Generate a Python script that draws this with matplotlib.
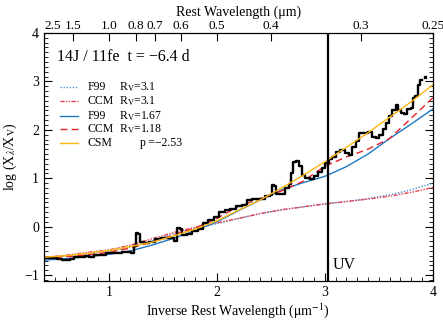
import numpy as np
import matplotlib
matplotlib.use("Agg")
import matplotlib.pyplot as plt
from matplotlib.ticker import MultipleLocator

plt.rcParams['font.family'] = ['Liberation Serif', 'DejaVu Serif']
plt.rcParams['mathtext.fontset'] = 'stix'

# observed colour excess ratio (black, binned spectrum)
obs_x = [0.40, 0.45, 0.50, 0.55, 0.58, 0.62, 0.66, 0.70, 0.76, 0.80, 0.84, 0.88,
         0.95, 1.00, 1.05, 1.10, 1.15, 1.20, 1.22, 1.24, 1.26, 1.28, 1.30, 1.35,
         1.40, 1.45, 1.52, 1.58, 1.62, 1.65, 1.67, 1.69, 1.75, 1.80, 1.85, 1.90,
         1.94, 2.00, 2.05, 2.10, 2.15, 2.20, 2.26, 2.30, 2.36, 2.42, 2.47, 2.51,
         2.52, 2.54, 2.56, 2.62, 2.65, 2.68, 2.70, 2.72, 2.75, 2.78, 2.80, 2.84,
         2.88, 2.92, 2.96, 2.99, 3.02, 3.05, 3.09, 3.12, 3.17, 3.20, 3.24, 3.27,
         3.30, 3.33, 3.38, 3.42, 3.45, 3.49, 3.52, 3.55, 3.58, 3.61, 3.64, 3.67,
         3.69, 3.72, 3.75, 3.78, 3.81, 3.82, 3.85, 3.87, 3.90]
obs_y = [-0.65, -0.65, -0.64, -0.66, -0.69, -0.68, -0.67, -0.63, -0.63, -0.61, -0.62, -0.59,
         -0.58, -0.55, -0.55, -0.54, -0.52, -0.52, -0.55, -0.40, -0.14, -0.15, -0.32, -0.33,
         -0.31, -0.25, -0.23, -0.24, -0.30, -0.03, -0.05, -0.17, -0.15, -0.09, -0.04, 0.07,
         0.14, 0.20, 0.30, 0.34, 0.36, 0.43, 0.45, 0.55, 0.57, 0.58, 0.64, 0.65,
         0.86, 0.84, 0.68, 0.68, 0.80, 0.88, 1.10, 1.33, 1.36, 1.25, 1.06, 1.00,
         0.99, 1.04, 1.12, 1.22, 1.31, 1.40, 1.43, 1.55, 1.59, 1.52, 1.49, 1.64,
         1.76, 1.93, 1.94, 1.96, 1.85, 1.84, 1.90, 2.02, 2.15, 2.28, 2.41, 2.51,
         2.41, 2.35, 2.33, 2.42, 2.46, 2.66, 2.70, 2.93, 3.02]
last_x = [3.93]
last_y = [3.10]

# model curves sampled on a common grid of inverse wavelength
grid = [0.4, 0.6, 0.8, 1.0, 1.2, 1.4, 1.6, 1.8, 2.0, 2.2, 2.4, 2.6, 2.8, 3.0,
        3.2, 3.4, 3.6, 3.8, 4.0]
f99_31 = [-0.65, -0.61, -0.56, -0.51, -0.42, -0.29, -0.15, -0.03, 0.06, 0.17,
          0.27, 0.35, 0.41, 0.47, 0.52, 0.58, 0.66, 0.76, 0.90]
ccm_31 = [-0.63, -0.59, -0.53, -0.48, -0.38, -0.25, -0.12, -0.01, 0.08, 0.17,
          0.27, 0.35, 0.41, 0.47, 0.52, 0.57, 0.63, 0.71, 0.81]
f99_167 = [-0.69, -0.66, -0.62, -0.57, -0.50, -0.38, -0.24, -0.08, 0.10, 0.33,
           0.55, 0.76, 0.91, 1.04, 1.24, 1.50, 1.82, 2.12, 2.43]
ccm_118 = [-0.65, -0.62, -0.58, -0.53, -0.44, -0.32, -0.17, -0.03, 0.17, 0.42,
           0.58, 0.74, 0.94, 1.25, 1.44, 1.60, 1.82, 2.24, 2.66]
csm = [-0.63, -0.60, -0.55, -0.49, -0.41, -0.32, -0.19, -0.05, 0.12, 0.34,
       0.55, 0.80, 1.06, 1.34, 1.64, 1.94, 2.26, 2.58, 2.93]

uv_edge = 1 / 0.33
top_wav = [2.5, 1.5, 1.0, 0.8, 0.7, 0.6, 0.5, 0.4, 0.3, 0.25]
top_labels = ['2.5', '1.5', '1.0', '0.8', '0.7', '0.6', '0.5', '0.4', '0.3', '0.25']

c_blue = '#1f78c1'
c_blue_dot = '#4a90d0'
c_red = '#e8202a'
c_red_dd = '#e84050'
c_yel = '#fdb813'

fig = plt.figure(figsize=(4.43, 3.2), dpi=100)
ax = fig.add_axes([0.0993, 0.122, 0.8777, 0.775])

ax.plot(grid, f99_31, color=c_blue_dot, lw=1.0, ls=(0, (1, 1.2)))
ax.plot(grid, ccm_31, color=c_red_dd, lw=1.0, ls=(0, (3, 1, 1, 1, 1, 1)))
ax.plot(grid, f99_167, color=c_blue, lw=1.0)
ax.plot(grid, ccm_118, color=c_red, lw=1.0, ls=(0, (5, 3)))
ax.plot(obs_x, obs_y, color='black', lw=1.7, drawstyle='steps-mid')
ax.plot(last_x, last_y, 's', color='black', ms=1.5)
ax.plot(grid, csm, color=c_yel, lw=1.0)
ax.axvline(uv_edge, color='black', lw=1.6)

ax.set_xlim(0.4, 4.0)
ax.set_ylim(-1.12, 4.0)
ax.xaxis.set_major_locator(MultipleLocator(1))
ax.xaxis.set_minor_locator(MultipleLocator(0.1))
ax.yaxis.set_major_locator(MultipleLocator(1))
ax.yaxis.set_minor_locator(MultipleLocator(0.1))
ax.tick_params(which='both', direction='in', top=False, right=True, labelsize=10)
ax.tick_params(which='major', length=6, width=0.8)
ax.tick_params(which='minor', length=3, width=0.6)
ax.set_xlabel(r'Inverse Rest Wavelength ($\mathrm{\mu m}^{-1}$)', fontsize=10, labelpad=2)
ax.set_ylabel(r'log (X$_{\lambda}$/X$_{\mathrm{V}}$)', fontsize=10, labelpad=4)

ax2 = ax.twiny()
ax2.set_xlim(ax.get_xlim())
ax2.set_xticks([1 / w for w in top_wav])
ax2.set_xticklabels(top_labels)
ax2.get_xticklabels()[0].set_horizontalalignment('left')
ax2.tick_params(direction='in', length=6, width=0.8, labelsize=9.5, pad=1)
ax2.set_xlabel('Rest Wavelength (μm)', fontsize=10, labelpad=3)

ax.text(0.033, 0.903, '14J / 11fe  t = \u22126.4 d', transform=ax.transAxes,
        fontsize=11.5, va='center')
ax.text(0.743, 0.065, 'UV', transform=ax.transAxes, fontsize=11.5, va='center')

# hand-made legend so the two text columns line up
leg_rows = [0.782, 0.726, 0.665, 0.613, 0.556]
leg_names = ['F99', 'CCM', 'F99', 'CCM', 'CSM']
leg_pars = [r'R$_{\mathrm{V}}$=3.1', r'R$_{\mathrm{V}}$=3.1', r'R$_{\mathrm{V}}$=1.67',
            r'R$_{\mathrm{V}}$=1.18', 'p\u2009=\u22122.53']
leg_style = [(c_blue_dot, (0, (1, 1.2))), (c_red_dd, (0, (3, 1, 1, 1, 1, 1))),
             (c_blue, '-'), (c_red, (0, (5, 3))), (c_yel, '-')]
for yy, nm, pr, (cc, ls) in zip(leg_rows, leg_names, leg_pars, leg_style):
    ax.plot([0.041, 0.087], [yy, yy], color=cc, ls=ls, lw=1.0, transform=ax.transAxes)
    ax.text(0.113, yy, nm, transform=ax.transAxes, fontsize=8.5, va='center')
    px = 0.247 if nm == 'CSM' else 0.193
    ax.text(px, yy, pr, transform=ax.transAxes, fontsize=8.5, va='center')

fig.savefig('out.png', dpi=100)
